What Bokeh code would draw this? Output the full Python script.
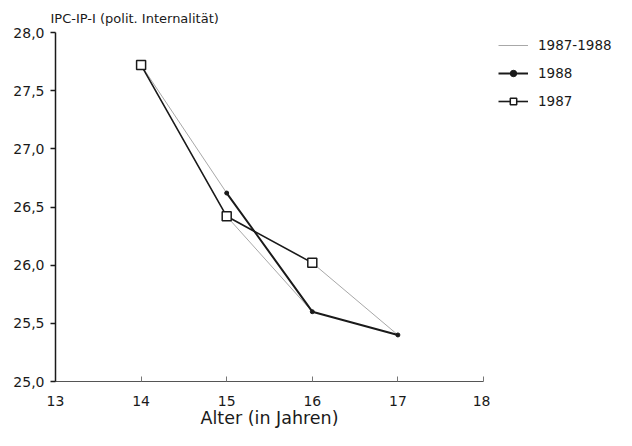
from bokeh.plotting import figure
from bokeh.layouts import row
from bokeh.models import Range1d, FixedTicker, Legend, LegendItem
from bokeh.embed import file_html
from bokeh.resources import INLINE

# ---- data ----
title_text = "IPC-IP-I (polit. Internalität)"
x_label = "Alter (in Jahren)"
age_1987 = [14, 15, 16]
ipc_1987 = [27.72, 26.42, 26.02]
age_1988 = [15, 16, 17]
ipc_1988 = [26.62, 25.60, 25.40]
x_ticks = [13, 14, 15, 16, 17, 18]
y_ticks = [25.0, 25.5, 26.0, 26.5, 27.0, 27.5, 28.0]
y_tick_labels = ["25,0", "25,5", "26,0", "26,5", "27,0", "27,5", "28,0"]
series_names = ["1987-1988", "1988", "1987"]

FONT = "DejaVu Sans"
INK = "#1a1a1a"
COH = "#a8a8a8"

p = figure(width=490, height=430, output_backend="svg", toolbar_location=None,
           x_range=Range1d(13, 18), y_range=Range1d(25, 28),
           min_border_left=55, min_border_right=7, min_border_top=32, min_border_bottom=49)
p.outline_line_color = None
p.grid.visible = False
p.background_fill_color = "white"
p.border_fill_color = "white"

# title (top-left, above the y axis)
p.title.text = title_text
p.title.align = "left"
p.title.offset = -5
p.title.standoff = 14
p.title.text_font = FONT
p.title.text_font_size = "13px"
p.title.text_font_style = "normal"
p.title.text_color = INK

# x axis
xa = p.xaxis[0]
xa.ticker = FixedTicker(ticks=x_ticks)
xa.major_tick_in = 5
xa.major_tick_out = 0
xa.minor_tick_line_color = None
xa.axis_line_color = "#555555"
xa.axis_line_width = 1
xa.major_tick_line_color = "#777777"
xa.major_label_text_font = FONT
xa.major_label_text_font_size = "14px"
xa.major_label_text_color = INK
xa.major_label_standoff = 14
xa.axis_label = x_label
xa.axis_label_text_font = FONT
xa.axis_label_text_font_size = "17.5px"
xa.axis_label_text_font_style = "normal"
xa.axis_label_text_color = INK
xa.axis_label_standoff = -1

# y axis
ya = p.yaxis[0]
ya.ticker = FixedTicker(ticks=y_ticks)
ya.major_label_overrides = {t: l for t, l in zip(y_ticks, y_tick_labels)}
ya.major_tick_in = 0
ya.major_tick_out = 5
ya.minor_tick_line_color = None
ya.axis_line_color = INK
ya.axis_line_width = 1.5
ya.major_tick_line_color = INK
ya.major_tick_line_width = 1.5
ya.major_label_text_font = FONT
ya.major_label_text_font_size = "14px"
ya.major_label_text_color = INK
ya.major_label_standoff = 6


def draw_series(fig):
    # 1987-1988 cohort segments (age a in 1987 -> age a+1 in 1988)
    seg_xs = [[a87, a88] for a87, a88 in zip(age_1987, age_1988)]
    seg_ys = [[v87, v88] for v87, v88 in zip(ipc_1987, ipc_1988)]
    r_coh = fig.multi_line(seg_xs, seg_ys, line_color=COH, line_width=1)
    # 1988
    r88_l = fig.line(age_1988, ipc_1988, line_color=INK, line_width=2)
    r88_m = fig.scatter(age_1988, ipc_1988, marker="circle", size=4,
                        fill_color=INK, line_color=INK)
    # 1987
    r87_l = fig.line(age_1987, ipc_1987, line_color=INK, line_width=1.6)
    r87_m = fig.scatter(age_1987, ipc_1987, marker="square", size=9, fill_color="white",
                        line_color=INK, line_width=1.5)
    return r_coh, (r88_l, r88_m), (r87_l, r87_m)


draw_series(p)

# legend panel: a small axis-less figure to the right whose view range lies
# away from the data, so only the legend is visible there
lf = figure(width=126, height=430, output_backend="svg", toolbar_location=None,
            x_range=Range1d(0, 1), y_range=Range1d(0, 1),
            min_border_left=0, min_border_right=0, min_border_top=0, min_border_bottom=0)
lf.axis.visible = False
lf.grid.visible = False
lf.outline_line_color = None
lf.background_fill_color = "white"
lf.border_fill_color = "white"
l_coh, l88, l87 = draw_series(lf)

legend = Legend(items=[
    LegendItem(label=series_names[0], renderers=[l_coh]),
    LegendItem(label=series_names[1], renderers=list(l88)),
    LegendItem(label=series_names[2], renderers=list(l87)),
], location=(8, 270))
legend.background_fill_alpha = 0
legend.border_line_color = None
legend.padding = 0
legend.margin = 0
legend.spacing = 8
legend.glyph_width = 30
legend.glyph_height = 16
legend.label_height = 20
legend.label_standoff = 10
legend.label_text_font = FONT
legend.label_text_font_size = "13.5px"
legend.label_text_color = INK
lf.add_layout(legend, "center")

layout = row(p, lf, spacing=0)
open("out.html", "w").write(file_html(layout, INLINE))
